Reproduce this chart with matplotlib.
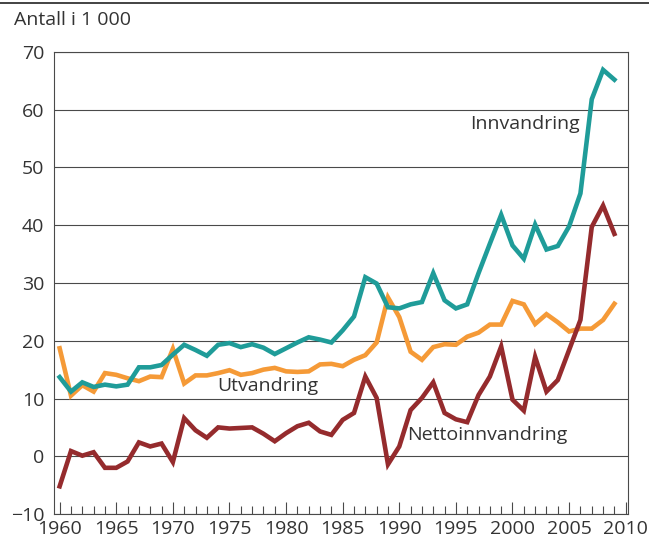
import numpy as np
import matplotlib
matplotlib.use("Agg")
import matplotlib.pyplot as plt
from matplotlib.lines import Line2D
from matplotlib.ticker import MultipleLocator

plt.rcParams["font.family"] = ["Open Sans", "DejaVu Sans"]

years = list(range(1960, 2010))

# Innvandring, Utvandring, Nettoinnvandring (antall i 1 000), lest av figuren
innvandring = [
    13.7, 11.2, 12.8, 12.0, 12.4, 12.1, 12.4, 15.4, 15.4, 15.8,
    17.6, 19.3, 18.4, 17.4, 19.3, 19.6, 18.9, 19.4, 18.8, 17.7,
    18.7, 19.7, 20.6, 20.2, 19.7, 21.8, 24.2, 31.0, 29.9, 25.8,
    25.6, 26.3, 26.7, 31.7, 27.0, 25.6, 26.3, 31.7, 36.8, 41.8,
    36.5, 34.2, 40.1, 35.8, 36.4, 39.8, 45.5, 61.8, 66.9, 65.2,
]
utvandring = [
    18.7, 10.5, 12.3, 11.2, 14.4, 14.1, 13.5, 13.0, 13.8, 13.7,
    18.6, 12.6, 14.0, 14.0, 14.4, 14.9, 14.1, 14.4, 15.0, 15.3,
    14.7, 14.6, 14.7, 15.9, 16.0, 15.6, 16.7, 17.5, 19.7, 27.5,
    24.1, 18.1, 16.7, 18.9, 19.4, 19.3, 20.7, 21.4, 22.8, 22.8,
    26.9, 26.3, 22.9, 24.6, 23.2, 21.6, 22.1, 22.1, 23.6, 26.4,
]
netto = [
    -5.2, 0.9, 0.1, 0.7, -2.0, -2.0, -0.9, 2.4, 1.7, 2.2,
    -1.0, 6.6, 4.5, 3.2, 5.0, 4.8, 4.9, 5.0, 3.9, 2.6,
    4.0, 5.2, 5.8, 4.3, 3.7, 6.3, 7.5, 13.8, 10.1, -1.4,
    1.7, 8.0, 10.1, 12.8, 7.5, 6.4, 5.9, 10.6, 13.8, 19.0,
    9.8, 7.9, 17.2, 11.2, 13.2, 18.4, 23.6, 39.7, 43.4, 38.5,
]

TEAL = "#1f9c99"
ORANGE = "#f59a37"
RED = "#952b2d"
TEXT = "#333333"
GRID = "#4a4a4a"

fig = plt.figure(figsize=(6.49, 5.44), dpi=100)
ax = fig.add_axes([0.0832, 0.0551, 0.8844, 0.8494])

# gridlinjer
for v in range(-10, 71, 10):
    ax.axhline(v, color=GRID, lw=0.8, zorder=1)

ax.plot(years, utvandring, color=ORANGE, lw=3.3, zorder=3, solid_joinstyle="miter")
ax.plot(years, innvandring, color=TEAL, lw=3.3, zorder=4, solid_joinstyle="miter")
ax.plot(years, netto, color=RED, lw=3.3, zorder=5, solid_joinstyle="miter")

ax.set_xlim(1959.5, 2010.2)
ax.set_ylim(-10, 70)
ax.xaxis.set_major_locator(MultipleLocator(5))
ax.xaxis.set_minor_locator(MultipleLocator(1))
ax.yaxis.set_major_locator(MultipleLocator(10))
ax.tick_params(axis="x", which="major", direction="in", length=8.5, width=0.8,
               color=GRID, labelsize=14, labelcolor=TEXT, pad=4)
ax.tick_params(axis="x", which="minor", direction="in", length=6, width=0.8, color=GRID)
ax.tick_params(axis="y", length=0, labelsize=14, labelcolor=TEXT, pad=7)
for s in ax.spines.values():
    s.set_color(GRID)
    s.set_linewidth(0.8)

ax.text(1996.3, 57.6, "Innvandring", fontsize=14, color=TEXT, va="center")
ax.text(1973.9, 12.1, "Utvandring", fontsize=14, color=TEXT, va="center")
ax.text(1990.7, 3.6, "Nettoinnvandring", fontsize=14, color=TEXT, va="center")

fig.text(14 / 649, 1 - 20 / 544, "Antall i 1 000", fontsize=14, color=TEXT, va="center")
fig.add_artist(Line2D([0, 1], [1 - 3 / 544, 1 - 3 / 544], color="#222222", lw=1.2,
                      transform=fig.transFigure))

fig.savefig("out.png", dpi=100)
